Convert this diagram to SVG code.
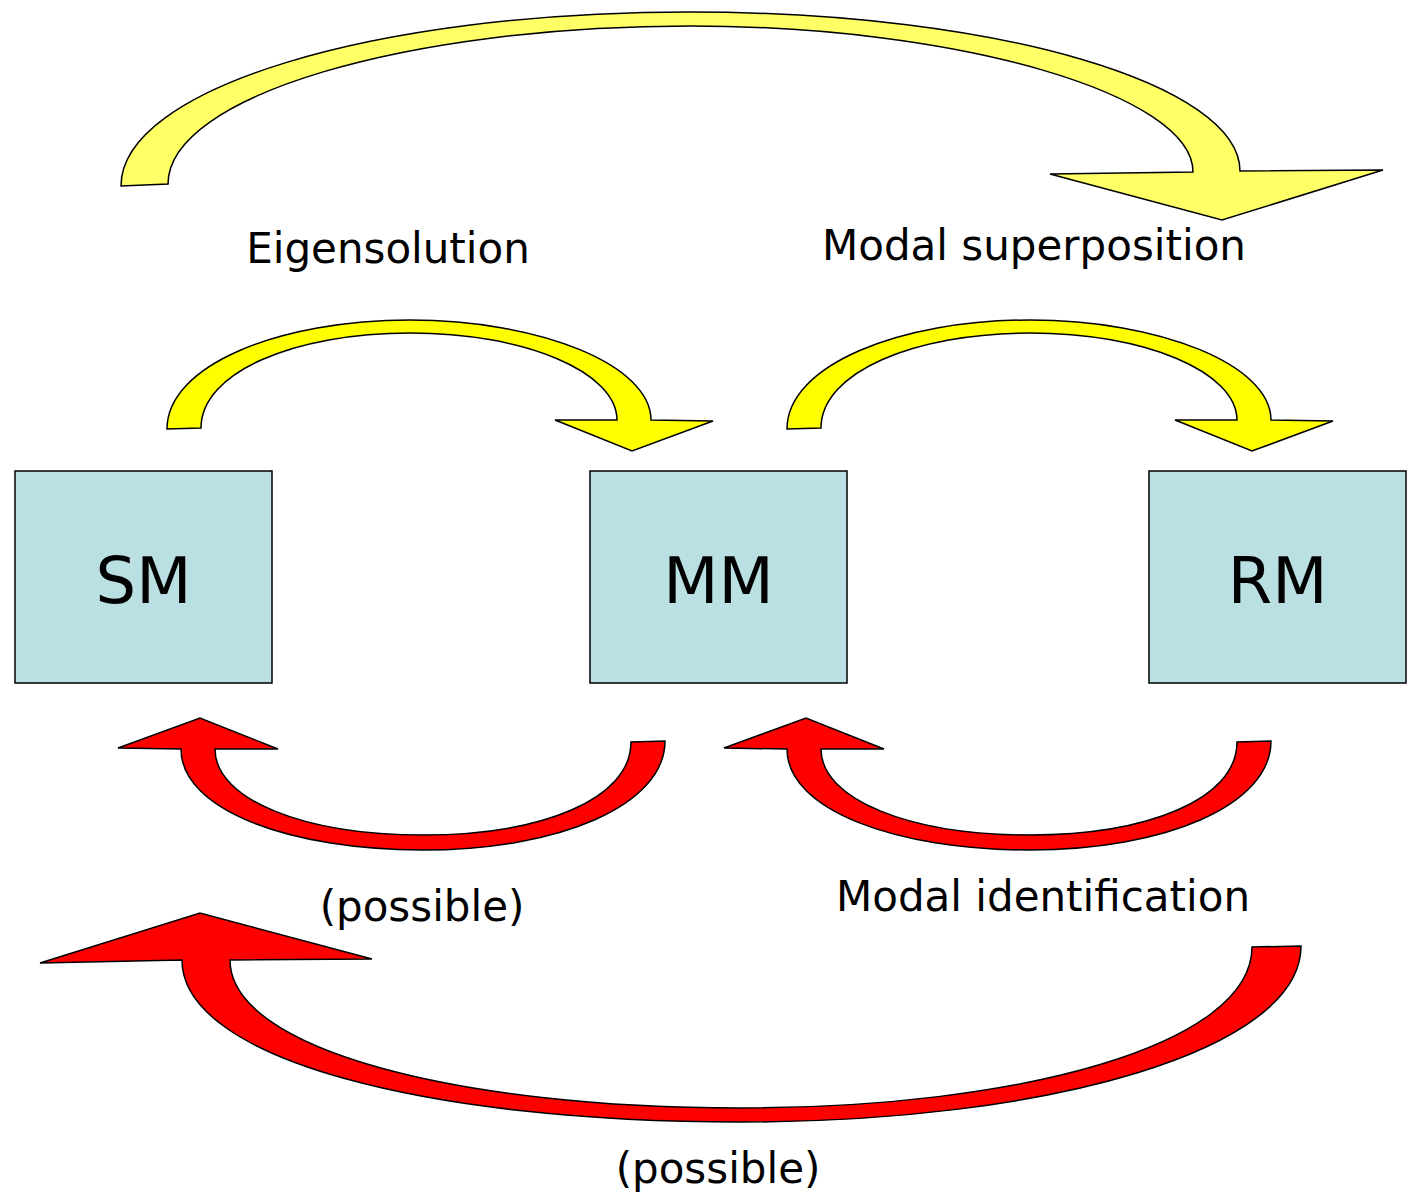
<svg xmlns="http://www.w3.org/2000/svg" width="1412" height="1203" viewBox="0 0 1412 1203">
  <style>
    .box { fill: #bae0e3; stroke: #000; stroke-width: 1.5; }
    .boxlabel { font-family: "DejaVu Sans", Verdana, sans-serif; font-size: 64px; fill: #000; text-anchor: middle; }
    .label { font-family: "DejaVu Sans", Verdana, sans-serif; font-size: 42px; fill: #000; text-anchor: middle; }
    .arrow { stroke: #000; stroke-width: 1.5; stroke-linejoin: miter; }
    .pale { fill: #ffff66; }
    .yellow { fill: #ffff00; }
    .red { fill: #ff0000; }
  </style>

  <!-- model nodes -->
  <g id="node-sm">
    <rect class="box" x="15" y="471" width="257" height="212"/>
    <text class="boxlabel" x="143.5" y="603">SM</text>
  </g>
  <g id="node-mm">
    <rect class="box" x="590" y="471" width="257" height="212"/>
    <text class="boxlabel" x="718.5" y="603">MM</text>
  </g>
  <g id="node-rm">
    <rect class="box" x="1149" y="471" width="257" height="212"/>
    <text class="boxlabel" x="1277.5" y="603">RM</text>
  </g>

  <!-- curved block arrows between models -->
  <g id="connectors">
    <!-- SM to RM (modal superposition path) -->
    <path class="arrow pale" d="M121,186 C121,89 371,12 690,12 C1000,12 1240,85 1240,171 L1383,170 L1222,220 L1050,174 L1193,172 C1193,95 960,26 690,26 C410,26 168,95 168,184 Z"/>
    <!-- SM to MM -->
    <path class="arrow yellow" d="M167,429 C167,365 280,320 410,320 C540,320 651,365 651,420 L713,421 L632,451 L555,420 L617,420 C617,372 525,333 410,333 C295,333 201,372 201,428 Z"/>
    <!-- MM to RM -->
    <path class="arrow yellow" transform="translate(620,0)" d="M167,429 C167,365 280,320 410,320 C540,320 651,365 651,420 L713,421 L632,451 L555,420 L617,420 C617,372 525,333 410,333 C295,333 201,372 201,428 Z"/>
    <!-- MM back to SM -->
    <path class="arrow red" d="M665,741 C665,805 560,850 423,850 C290,850 181,810 181,749 L118,748 L200,718 L278,749 L215,749 C215,800 305,835 423,835 C540,835 631,800 631,742 Z"/>
    <!-- RM back to MM -->
    <path class="arrow red" transform="translate(606,0)" d="M665,741 C665,805 560,850 423,850 C290,850 181,810 181,749 L118,748 L200,718 L278,749 L215,749 C215,800 305,835 423,835 C540,835 631,800 631,742 Z"/>
    <!-- RM back to SM -->
    <path class="arrow red" d="M1301,946 C1301,1050 1050,1122 740,1122 C430,1122 182,1060 182,960 L40,963 L200,913 L372,959 L230,960 C230,1050 460,1108 740,1108 C1020,1108 1252,1045 1252,947 Z"/>
  </g>

  <!-- connector labels -->
  <g id="labels">
    <text class="label" x="388" y="263">Eigensolution</text>
    <text class="label" x="1034" y="260">Modal superposition</text>
    <text class="label" x="1043" y="911">Modal identification</text>
    <text class="label" x="422" y="921">(possible)</text>
    <text class="label" x="718" y="1183">(possible)</text>
  </g>
</svg>
